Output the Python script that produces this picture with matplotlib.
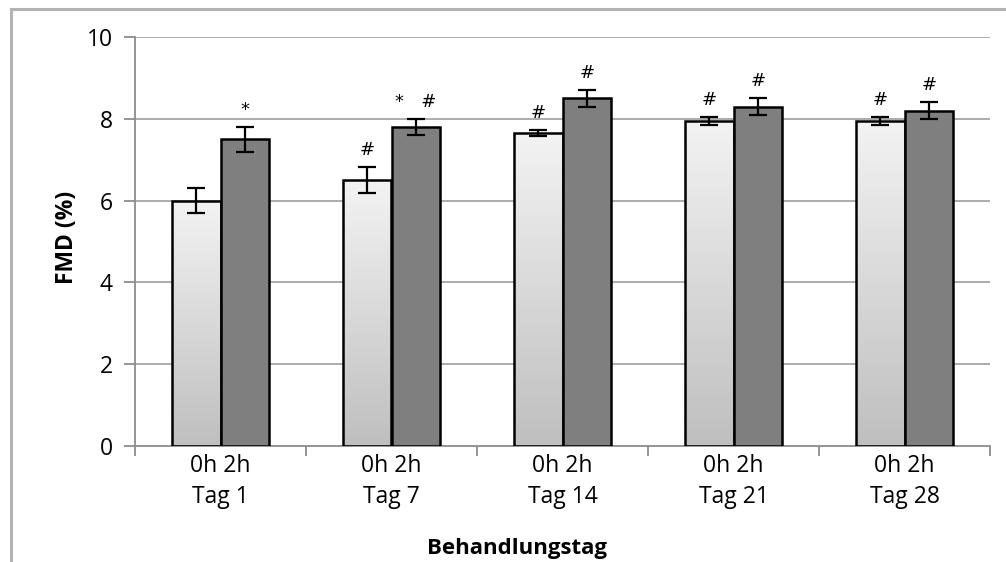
import numpy as np
import matplotlib
matplotlib.use("Agg")
import matplotlib.pyplot as plt
from matplotlib.patches import Rectangle
from matplotlib.lines import Line2D

plt.rcParams['font.family'] = ['Open Sans', 'DejaVu Sans']

# Data: flow-mediated dilation before (0h) and after (2h) on each treatment day
days = ["Tag 1", "Tag 7", "Tag 14", "Tag 21", "Tag 28"]
fmd_0h = [6.0, 6.5, 7.65, 7.95, 7.95]
fmd_2h = [7.5, 7.8, 8.5, 8.3, 8.2]
err_0h = [0.3, 0.32, 0.08, 0.09, 0.09]
err_2h = [0.3, 0.2, 0.2, 0.2, 0.2]
marks_0h = ["", "#", "#", "#", "#"]
marks_2h = ["*", "*   #", "#", "#", "#"]
y_ticks = [0, 2, 4, 6, 8, 10]

W, H = 1006, 562
fig = plt.figure(figsize=(W / 100, H / 100), dpi=100)
fig.patch.set_facecolor("white")

# outer chart-area frame (top and left edges)
fig.add_artist(Line2D([11 / W, 1.0], [1 - 9 / H, 1 - 9 / H], color="#b3b3b3", lw=2.2))
fig.add_artist(Line2D([11 / W, 11 / W], [0, 1 - 9 / H], color="#b3b3b3", lw=2.2))

ax = fig.add_axes([135 / W, (H - 446) / H, (990 - 135) / W, (446 - 37) / H])
ax.set_xlim(-0.5, len(days) - 0.5)
ax.set_ylim(0, 10)

grid_c = "#a6a6a6"
for y in y_ticks[1:]:
    ax.axhline(y, color=grid_c, lw=1.3, zorder=0)

x = np.arange(len(days))
bw = 1 / 3.5

# vertical gradient for the 0h bars
grad = np.linspace(0, 1, 256).reshape(-1, 1)
cmap = matplotlib.colors.LinearSegmentedColormap.from_list("g", ["#bfbfbf", "#f3f3f3"])

for i in range(len(days)):
    xl = x[i] - bw
    # 0h bar with gradient fill
    im = ax.imshow(grad, extent=(xl, xl + bw, 0, fmd_0h[i]), origin="lower",
                   cmap=cmap, aspect="auto", zorder=2, interpolation="bicubic")
    r0 = Rectangle((xl, 0), bw, fmd_0h[i], facecolor="none", edgecolor="black", lw=1.8, zorder=3)
    ax.add_patch(r0)
    im.set_clip_path(r0)
    # 2h bar
    ax.add_patch(Rectangle((x[i], 0), bw, fmd_2h[i], facecolor="#7f7f7f",
                           edgecolor="black", lw=1.8, zorder=3))

ax.errorbar(x - bw / 2, fmd_0h, yerr=err_0h, fmt="none", ecolor="black",
            elinewidth=1.6, capsize=6.5, capthick=1.6, zorder=4)
ax.errorbar(x + bw / 2, fmd_2h, yerr=err_2h, fmt="none", ecolor="black",
            elinewidth=1.6, capsize=6.5, capthick=1.6, zorder=4)

mark_font = ['DejaVu Sans']
for i in range(len(days)):
    if marks_0h[i]:
        ax.text(x[i] - bw / 2, fmd_0h[i] + err_0h[i] + 0.2, marks_0h[i], family=mark_font,
                ha="center", va="bottom", fontsize=13, zorder=5)
    if marks_2h[i]:
        ax.text(x[i] + bw / 2, fmd_2h[i] + err_2h[i] + 0.2, marks_2h[i], family=mark_font,
                ha="center", va="bottom", fontsize=13, zorder=5)

for s in ["top", "right"]:
    ax.spines[s].set_visible(False)
for s in ["left", "bottom"]:
    ax.spines[s].set_color("#8c8c8c")
    ax.spines[s].set_linewidth(1.3)

ax.set_yticks(y_ticks)
ax.set_yticklabels([str(v) for v in y_ticks], fontsize=16.5)
ax.tick_params(axis="y", direction="out", length=8, width=1.3, color="#8c8c8c", pad=8)

ax.set_xticks(np.arange(-0.5, len(days)), minor=False)
ax.set_xticklabels([])
ax.tick_params(axis="x", which="major", direction="out", length=7, width=1.3, color="#8c8c8c")
ax.set_xticks(x, minor=True)
ax.set_xticklabels(["0h 2h\n" + d for d in days], minor=True, fontsize=16.5, linespacing=1.35)
ax.tick_params(axis="x", which="minor", length=0, pad=6)

ax.set_ylabel("FMD (%)", fontsize=16.5, fontweight="bold")
ax.yaxis.set_label_coords(-0.065, 0.51)
ax.set_xlabel("Behandlungstag", fontsize=16, fontweight="bold")
ax.xaxis.set_label_coords(0.447, -0.225)

fig.savefig("out.png", dpi=100, facecolor="white")
